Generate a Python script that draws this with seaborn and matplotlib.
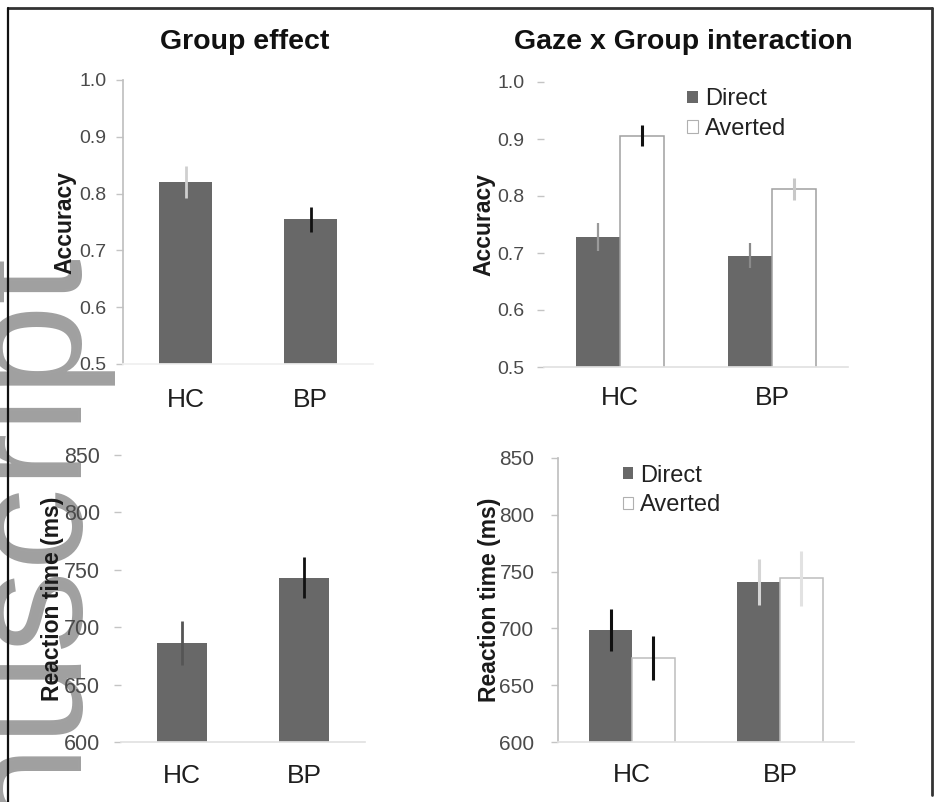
import matplotlib
matplotlib.use("Agg")
import matplotlib.pyplot as plt
from matplotlib.lines import Line2D
from matplotlib.patches import Patch
import seaborn as sns
import pandas as pd

# ---------------- data ----------------
groups = ["HC", "BP"]
gaze_levels = ["Direct", "Averted"]

acc_group_mean = [0.820, 0.755]
acc_group_sem = [0.028, 0.022]

acc_direct_mean = [0.728, 0.695]
acc_direct_sem = [0.025, 0.022]
acc_averted_mean = [0.906, 0.812]
acc_averted_sem = [0.018, 0.019]

rt_group_mean = [686, 743]
rt_group_sem = [19, 18]

rt_direct_mean = [699, 741]
rt_direct_sem = [18.5, 20]
rt_averted_mean = [674, 744]
rt_averted_sem = [19, 24]

acc_ticks = [0.5, 0.6, 0.7, 0.8, 0.9, 1.0]
acc_ticklabels = ["0.5", "0.6", "0.7", "0.8", "0.9", "1.0"]
rt_ticks = [600, 650, 700, 750, 800, 850]
rt_ticklabels = ["600", "650", "700", "750", "800", "850"]

titles = ["Group effect", "Gaze x Group interaction"]
ylabels = ["Accuracy", "Reaction time (ms)"]
watermark = "Manuscript"

# ---------------- style ----------------
sns.set_theme(style="white")
plt.rcParams["font.family"] = ["Liberation Sans", "DejaVu Sans"]

DARK = "#686868"
W, H = 936, 802
fig = plt.figure(figsize=(W / 100, H / 100), dpi=100)
fig.patch.set_facecolor("white")


def px_axes(left, top, right, bottom):
    return fig.add_axes([left / W, 1 - bottom / H, (right - left) / W, (bottom - top) / H])


ax1 = px_axes(123, 80, 373, 364)
ax2 = px_axes(544, 82, 848, 367)
ax3 = px_axes(121, 455, 365, 742)
ax4 = px_axes(558, 458, 854, 742)

df_acc_group = pd.DataFrame({"group": groups, "value": acc_group_mean})
df_rt_group = pd.DataFrame({"group": groups, "value": rt_group_mean})
df_acc_gaze = pd.DataFrame({
    "group": groups * 2,
    "gaze": [gaze_levels[0]] * 2 + [gaze_levels[1]] * 2,
    "value": acc_direct_mean + acc_averted_mean,
})
df_rt_gaze = pd.DataFrame({
    "group": groups * 2,
    "gaze": [gaze_levels[0]] * 2 + [gaze_levels[1]] * 2,
    "value": rt_direct_mean + rt_averted_mean,
})

sns.barplot(data=df_acc_group, x="group", y="value", order=groups, color=DARK,
            saturation=1, width=0.42, errorbar=None, ax=ax1)
sns.barplot(data=df_rt_group, x="group", y="value", order=groups, color=DARK,
            saturation=1, width=0.41, errorbar=None, ax=ax3)

pal = {"Direct": DARK, "Averted": "white"}
sns.barplot(data=df_acc_gaze, x="group", y="value", hue="gaze", order=groups,
            hue_order=gaze_levels, palette=pal, saturation=1, width=0.58, gap=0,
            errorbar=None, legend=False, ax=ax2)
sns.barplot(data=df_rt_gaze, x="group", y="value", hue="gaze", order=groups,
            hue_order=gaze_levels, palette=pal, saturation=1, width=0.58, gap=0,
            errorbar=None, legend=False, ax=ax4)

for ax in (ax1, ax3):
    for p in ax.patches:
        p.set_edgecolor("none")
for ax, ec in ((ax2, "#a0a0a0"), (ax4, "#bdbdbd")):
    for p in ax.containers[0]:
        p.set_edgecolor("none")
    for p in ax.containers[1]:
        p.set_edgecolor(ec)
        p.set_linewidth(1.1)


def add_errors(ax, container, means, sems, colors, lw):
    for p, m, s, c in zip(container, means, sems, colors):
        xc = p.get_x() + p.get_width() / 2
        ax.errorbar([xc], [m], yerr=[s], fmt="none", ecolor=c, elinewidth=lw,
                    capsize=0, zorder=5)


add_errors(ax1, ax1.containers[0], acc_group_mean, acc_group_sem, ["#cfcfcf", "#111111"], 2.0)
add_errors(ax3, ax3.containers[0], rt_group_mean, rt_group_sem, ["#555555", "#111111"], 2.0)
add_errors(ax2, ax2.containers[0], acc_direct_mean, acc_direct_sem, ["#9a9a9a", "#8a8a8a"], 1.6)
add_errors(ax2, ax2.containers[1], acc_averted_mean, acc_averted_sem, ["#111111", "#c8c8c8"], 2.2)
add_errors(ax4, ax4.containers[0], rt_direct_mean, rt_direct_sem, ["#111111", "#d5d5d5"], 2.2)
add_errors(ax4, ax4.containers[1], rt_averted_mean, rt_averted_sem, ["#111111", "#e2e2e2"], 2.2)

for ax, ticks, labels, lim in ((ax1, acc_ticks, acc_ticklabels, (0.5, 1.0)),
                               (ax2, acc_ticks, acc_ticklabels, (0.5, 1.0)),
                               (ax3, rt_ticks, rt_ticklabels, (600, 850)),
                               (ax4, rt_ticks, rt_ticklabels, (600, 850))):
    ax.set_facecolor("none")
    ax.set_ylim(*lim)
    ax.set_xlim(-0.5, 1.5)
    ax.set_yticks(ticks)
    ax.set_yticklabels(labels)
    ax.set_xlabel("")
    for s in ("top", "right"):
        ax.spines[s].set_visible(False)
    ax.spines["bottom"].set_color("#e2e2e2")
    ax.spines["left"].set_color("#c0c0c0")
    ax.tick_params(axis="y", which="both", left=True, length=5, width=1,
                   color="#c4c4c4", labelcolor="#4a4a4a")
    ax.tick_params(axis="x", length=0, labelsize=19, labelcolor="#1e1e1e")

ax2.spines["left"].set_visible(False)
ax3.spines["left"].set_visible(False)
ax1.spines["bottom"].set_color("#f0f0f0")

ax1.tick_params(axis="y", labelsize=14, pad=7)
ax2.tick_params(axis="y", labelsize=14, pad=9)
ax3.tick_params(axis="y", labelsize=15.5, pad=10)
ax4.tick_params(axis="y", labelsize=15, pad=12)
ax1.tick_params(axis="x", pad=17)
ax2.tick_params(axis="x", pad=14)
ax3.tick_params(axis="x", pad=16)
ax4.tick_params(axis="x", pad=15)

for ax, lab, xc in ((ax1, ylabels[0], -0.232), (ax2, ylabels[0], -0.197),
                    (ax3, ylabels[1], -0.279), (ax4, ylabels[1], -0.233)):
    ax.set_ylabel(lab, fontsize=16.5, fontweight="bold", color="#1a1a1a", va="center")
    ax.yaxis.set_label_coords(xc, 0.5)

fig.text(245 / W, 1 - 42 / H, titles[0], ha="center", va="center",
         fontsize=20.5, fontweight="bold", color="#111111")
fig.text(683 / W, 1 - 42 / H, titles[1], ha="center", va="center",
         fontsize=20.5, fontweight="bold", color="#111111")

handles = [Patch(facecolor=DARK, edgecolor="none"),
           Patch(facecolor="white", edgecolor="#b0b0b0", linewidth=0.8)]
for ax, anchor in ((ax2, (0.471, 0.978)), (ax4, (0.218, 0.977))):
    ax.legend(handles, gaze_levels, loc="upper left", bbox_to_anchor=anchor,
              frameon=False, fontsize=17, handlelength=0.45, handleheight=0.45,
              handletextpad=0.3, labelspacing=0.33, borderpad=0, borderaxespad=0,
              labelcolor="#222222")

# partly visible watermark of the manuscript page (runs off the bottom edge)
fig.text(68 / W, 1 - 1052 / H, watermark, rotation=90, rotation_mode="anchor",
         ha="left", va="baseline", fontsize=119, color="#a0a0a0", zorder=-1)

fig.add_artist(Line2D([8 / W, 932 / W], [1 - 8 / H, 1 - 8 / H], color="#333333", lw=2))
fig.add_artist(Line2D([8 / W, 8 / W], [1 - 8 / H, 0], color="#111111", lw=1.6))
fig.add_artist(Line2D([932 / W, 932 / W], [1 - 8 / H, 1 - 795 / H], color="#333333", lw=2))

fig.savefig("out.png", dpi=100, facecolor="white")
